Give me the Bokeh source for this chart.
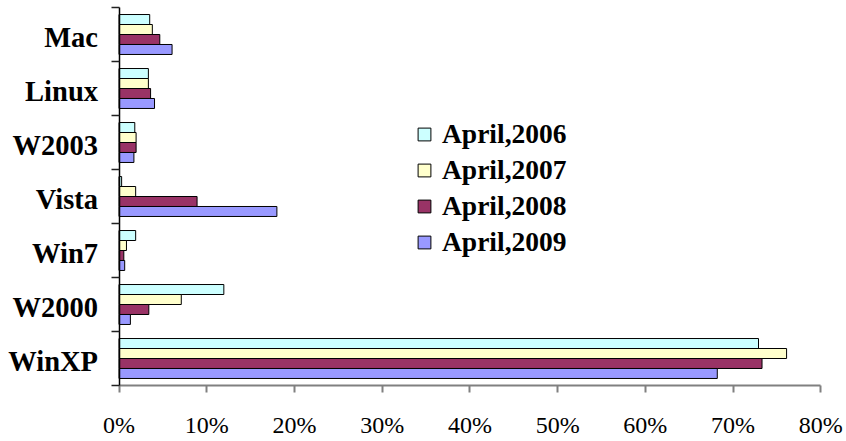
from bokeh.plotting import figure
from bokeh.models import Range1d, FixedTicker, ColumnDataSource, Legend, LegendItem
from bokeh.embed import file_html
from bokeh.resources import INLINE

categories = ["WinXP", "W2000", "Win7", "Vista", "W2003", "Linux", "Mac"]
series_names = ["April,2006", "April,2007", "April,2008", "April,2009"]
apr2006 = [72.9, 11.95, 1.9, 0.3, 1.8, 3.35, 3.5]
apr2007 = [76.1, 7.1, 0.85, 1.9, 1.95, 3.35, 3.8]
apr2008 = [73.3, 3.4, 0.55, 8.9, 1.95, 3.6, 4.65]
apr2009 = [68.2, 1.3, 0.65, 18.0, 1.7, 4.05, 6.05]
series_values = [apr2006, apr2007, apr2008, apr2009]
colors = ["#CCFFFF", "#FFFFCC", "#993366", "#9999FF"]
x_ticks = [0, 10, 20, 30, 40, 50, 60, 70, 80]

W, H = 846, 441
# pixel layout of the plotting area inside the figure
px_left, px_right = 118.5, 820.3   # x=0 and x=80
py_top, py_bottom = 7.0, 385.0     # y=7 and y=0
sx = (px_right - px_left) / 80.0
sy = (py_bottom - py_top) / 7.0
x_range = Range1d(-px_left / sx, -px_left / sx + W / sx)
y_range = Range1d(-(H - py_bottom) / sy, 7 + py_top / sy)

bar_h = 0.185
offsets = [1.5 * bar_h, 0.5 * bar_h, -0.5 * bar_h, -1.5 * bar_h]

p = figure(width=W, height=H, output_backend="svg", toolbar_location=None,
           x_range=x_range, y_range=y_range, min_border=0)
p.outline_line_color = None
p.xgrid.visible = False
p.ygrid.visible = False
p.background_fill_color = "white"
p.border_fill_color = "white"

renderers = []
for name, vals, col, off in zip(series_names, series_values, colors, offsets):
    src = ColumnDataSource(dict(y=[i + 0.5 + off for i in range(len(categories))],
                                right=vals))
    r = p.hbar(y="y", left=0, right="right", height=bar_h, source=src,
               fill_color=col, line_color="black", line_width=1)
    renderers.append(r)

# x axis
xa = p.xaxis[0]
xa.fixed_location = 0
xa.bounds = (0, 80)
xa.ticker = FixedTicker(ticks=x_ticks)
xa.major_label_overrides = {t: f"{t}%" for t in x_ticks}
xa.major_label_text_font = "Liberation Serif"
xa.major_label_text_font_size = "24px"
xa.major_label_text_color = "black"
xa.major_label_standoff = 19
xa.axis_line_color = "#808080"
xa.axis_line_width = 2
xa.major_tick_line_color = "#808080"
xa.major_tick_line_width = 2
xa.major_tick_out = 7
xa.major_tick_in = 0
xa.minor_tick_line_color = None

# y axis (labels sit slightly below the category centre, as in the original)
label_pos = [i + 0.5 - 0.055 for i in range(len(categories))]
ya = p.yaxis[0]
ya.fixed_location = 0
ya.bounds = (0, 7)
ya.ticker = FixedTicker(ticks=label_pos, minor_ticks=list(range(len(categories) + 1)))
ya.major_label_overrides = {c: cat for c, cat in zip(label_pos, categories)}
ya.major_label_text_font = "Liberation Serif"
ya.major_label_text_font_style = "bold"
ya.major_label_text_font_size = "28.5px"
ya.major_label_text_color = "black"
ya.major_tick_line_color = None
ya.major_tick_out = 0
ya.major_tick_in = 0
ya.major_label_standoff = 13
ya.minor_tick_line_color = "#222222"
ya.minor_tick_line_width = 1.5
ya.minor_tick_out = 8
ya.minor_tick_in = 0
ya.axis_line_color = "black"
ya.axis_line_width = 1.5

legend = Legend(items=[LegendItem(label=n, renderers=[r]) for n, r in zip(series_names, renderers)],
                location=(416, 183), orientation="vertical")
legend.border_line_color = None
legend.background_fill_alpha = 0
legend.padding = 0
legend.margin = 0
legend.spacing = 4
legend.glyph_width = 16
legend.glyph_height = 16
legend.label_standoff = 10
legend.label_text_font = "Liberation Serif"
legend.label_text_font_style = "bold"
legend.label_text_font_size = "27.5px"
legend.label_text_color = "black"
p.add_layout(legend, "center")

open("out.html", "w").write(file_html(p, INLINE))
